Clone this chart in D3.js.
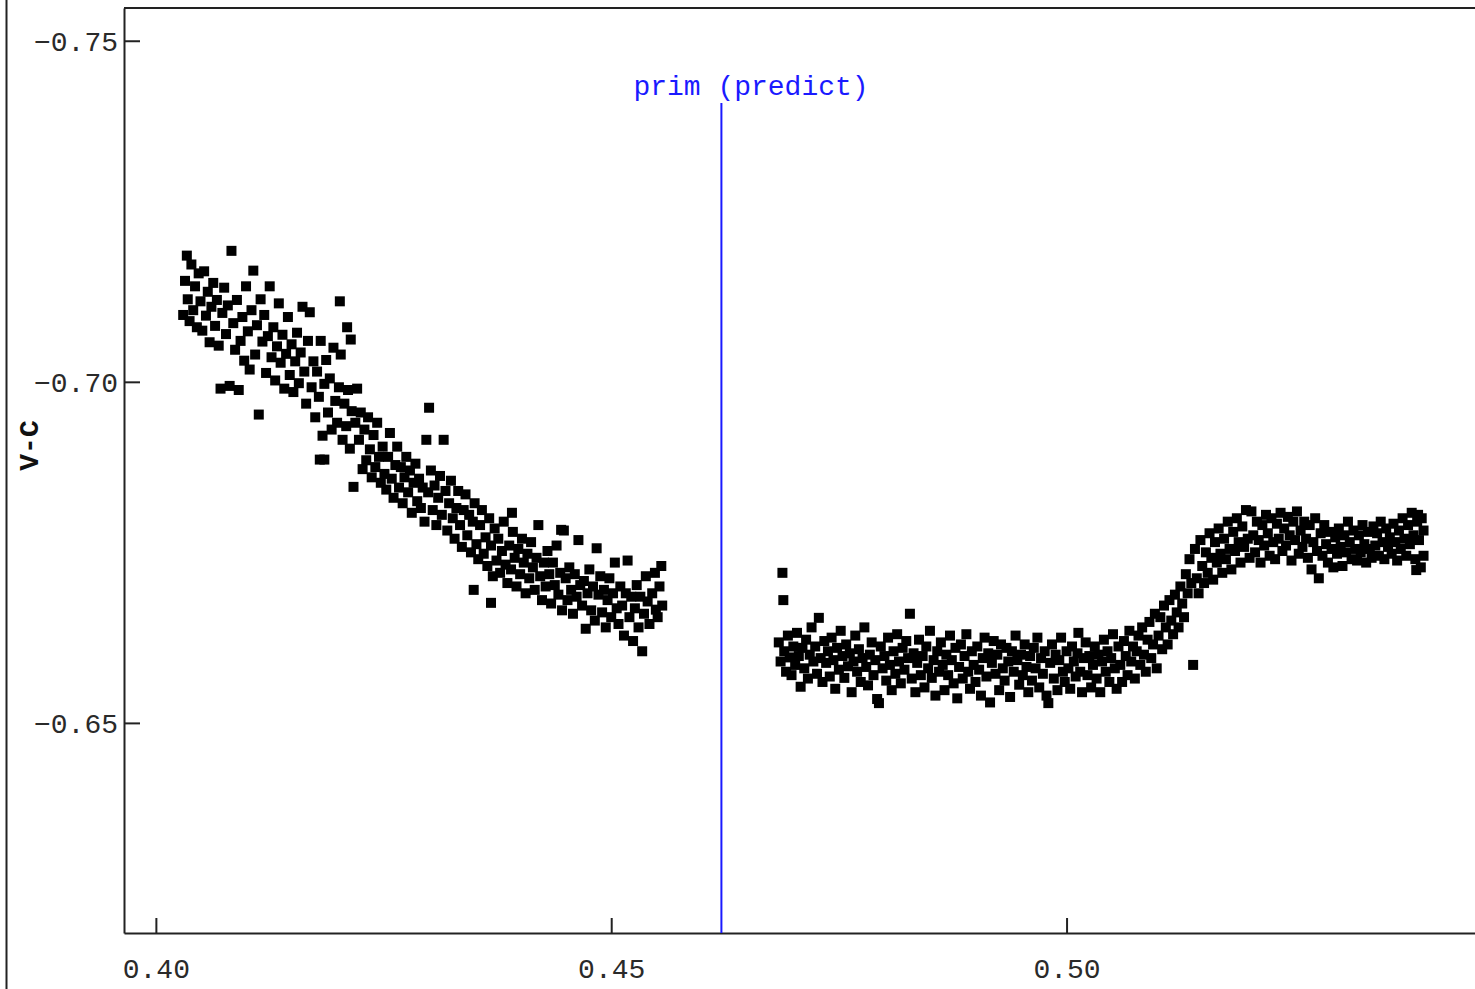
<!DOCTYPE html>
<html>
<head>
<meta charset="utf-8">
<script src="https://cdn.jsdelivr.net/npm/d3@7"></script>
<style>
  html, body { margin: 0; padding: 0; background: #fff; overflow: hidden; }
  text { font-family: "Liberation Mono", "DejaVu Sans Mono", monospace; }
</style>
</head>
<body>
<svg id="chart" width="1475" height="989"></svg>
<script>
// Axis ticks and annotations
const xTicks = [0.40, 0.45, 0.50];
const yTicks = [-0.75, -0.70, -0.65];
const yTitle = "V-C";
const primPredict = 0.4621;
const primLabel = "prim (predict)";

// Observed V-C differential magnitudes against phase, before the predicted minimum
const preMinimum = [
  [0.4030,-0.7098],[0.4032,-0.7148],[0.4034,-0.7185],[0.4035,-0.7121],[0.4037,-0.7089],[0.4039,-0.7172],[0.4041,-0.7105],[0.4043,-0.7140],[0.4045,-0.7080],[0.4047,-0.7159],
  [0.4049,-0.7118],[0.4051,-0.7075],[0.4053,-0.7162],[0.4055,-0.7097],[0.4057,-0.7132],[0.4059,-0.7058],[0.4061,-0.7110],[0.4063,-0.7145],[0.4065,-0.7082],[0.4067,-0.7120],
  [0.4069,-0.7053],[0.4071,-0.6990],[0.4073,-0.7101],[0.4075,-0.7138],[0.4077,-0.7070],[0.4079,-0.7112],[0.4081,-0.6994],[0.4083,-0.7192],[0.4085,-0.7086],[0.4087,-0.7047],
  [0.4089,-0.7120],[0.4091,-0.6988],[0.4093,-0.7060],[0.4095,-0.7095],[0.4097,-0.7031],[0.4099,-0.7140],[0.4101,-0.7074],[0.4103,-0.7018],[0.4105,-0.7105],[0.4107,-0.7163],
  [0.4109,-0.7040],[0.4111,-0.7083],[0.4113,-0.6952],[0.4115,-0.7121],[0.4117,-0.7059],[0.4119,-0.7098],[0.4121,-0.7013],[0.4123,-0.7067],[0.4125,-0.7140],[0.4127,-0.7036],
  [0.4129,-0.7080],[0.4131,-0.7002],[0.4133,-0.7052],[0.4135,-0.7115],[0.4137,-0.7028],[0.4139,-0.7069],[0.4141,-0.6990],[0.4143,-0.7041],[0.4145,-0.7095],[0.4147,-0.7010],
  [0.4149,-0.7055],[0.4151,-0.6985],[0.4153,-0.7030],[0.4155,-0.7072],[0.4157,-0.6998],[0.4159,-0.7043],[0.4161,-0.7110],[0.4163,-0.7015],[0.4165,-0.6968],[0.4167,-0.7060],
  [0.4169,-0.7102],[0.4171,-0.6992],[0.4173,-0.7030],[0.4175,-0.6948],[0.4177,-0.7015],[0.4179,-0.6978],[0.4180,-0.6886],[0.4181,-0.7060],[0.4183,-0.6921],[0.4185,-0.6886],
  [0.4185,-0.6997],[0.4187,-0.7032],[0.4189,-0.6955],[0.4191,-0.7005],[0.4193,-0.6930],[0.4195,-0.7050],[0.4197,-0.6972],[0.4199,-0.6940],[0.4201,-0.6992],[0.4202,-0.7118],
  [0.4203,-0.7040],[0.4205,-0.6915],[0.4207,-0.6968],[0.4209,-0.6935],[0.4210,-0.7080],[0.4211,-0.6988],[0.4213,-0.6902],[0.4214,-0.7062],[0.4215,-0.6957],[0.4217,-0.6846],
  [0.4219,-0.6940],[0.4221,-0.6990],[0.4223,-0.6915],[0.4225,-0.6955],[0.4227,-0.6872],[0.4229,-0.6930],[0.4231,-0.6885],[0.4233,-0.6948],[0.4235,-0.6901],[0.4237,-0.6860],
  [0.4239,-0.6922],[0.4241,-0.6875],[0.4243,-0.6940],[0.4245,-0.6890],[0.4247,-0.6852],[0.4249,-0.6905],[0.4251,-0.6865],[0.4253,-0.6842],[0.4255,-0.6890],[0.4257,-0.6925],
  [0.4259,-0.6858],[0.4261,-0.6830],[0.4263,-0.6878],[0.4265,-0.6905],[0.4267,-0.6845],[0.4269,-0.6875],[0.4271,-0.6822],[0.4273,-0.6860],[0.4275,-0.6890],[0.4277,-0.6838],
  [0.4279,-0.6870],[0.4281,-0.6808],[0.4283,-0.6852],[0.4285,-0.6880],[0.4287,-0.6825],[0.4289,-0.6858],[0.4291,-0.6815],[0.4293,-0.6845],[0.4295,-0.6795],[0.4297,-0.6915],
  [0.4299,-0.6838],[0.4300,-0.6962],[0.4302,-0.6870],[0.4304,-0.6812],[0.4306,-0.6848],[0.4308,-0.6790],[0.4310,-0.6830],[0.4312,-0.6862],[0.4314,-0.6805],[0.4316,-0.6915],
  [0.4318,-0.6840],[0.4320,-0.6782],[0.4322,-0.6822],[0.4324,-0.6855],[0.4326,-0.6800],[0.4328,-0.6770],[0.4330,-0.6815],[0.4332,-0.6840],[0.4334,-0.6790],[0.4336,-0.6758],
  [0.4338,-0.6812],[0.4340,-0.6835],[0.4342,-0.6775],[0.4344,-0.6805],[0.4346,-0.6750],[0.4348,-0.6795],[0.4349,-0.6695],[0.4350,-0.6822],[0.4352,-0.6762],[0.4354,-0.6740],
  [0.4356,-0.6790],[0.4358,-0.6812],[0.4360,-0.6748],[0.4362,-0.6772],[0.4364,-0.6730],[0.4366,-0.6800],[0.4368,-0.6760],[0.4368,-0.6676],[0.4370,-0.6715],[0.4372,-0.6785],
  [0.4374,-0.6738],[0.4376,-0.6770],[0.4378,-0.6720],[0.4380,-0.6752],[0.4382,-0.6795],[0.4384,-0.6732],[0.4386,-0.6705],[0.4388,-0.6760],[0.4390,-0.6725],[0.4391,-0.6808],
  [0.4392,-0.6780],[0.4394,-0.6742],[0.4396,-0.6700],[0.4398,-0.6755],[0.4400,-0.6718],[0.4402,-0.6770],[0.4404,-0.6735],[0.4406,-0.6690],[0.4408,-0.6748],[0.4410,-0.6712],
  [0.4412,-0.6765],[0.4414,-0.6728],[0.4416,-0.6695],[0.4418,-0.6742],[0.4420,-0.6790],[0.4422,-0.6715],[0.4424,-0.6680],[0.4426,-0.6735],[0.4428,-0.6700],[0.4430,-0.6752],
  [0.4432,-0.6718],[0.4434,-0.6675],[0.4436,-0.6735],[0.4438,-0.6702],[0.4440,-0.6760],[0.4442,-0.6688],[0.4444,-0.6720],[0.4445,-0.6783],[0.4446,-0.6665],[0.4448,-0.6782],
  [0.4450,-0.6712],[0.4452,-0.6680],[0.4454,-0.6728],[0.4456,-0.6695],[0.4458,-0.6660],[0.4460,-0.6718],[0.4462,-0.6685],[0.4464,-0.6768],[0.4466,-0.6702],[0.4468,-0.6672],
  [0.4470,-0.6708],[0.4472,-0.6638],[0.4474,-0.6690],[0.4476,-0.6725],[0.4478,-0.6665],[0.4480,-0.6700],[0.4482,-0.6650],[0.4484,-0.6756],[0.4486,-0.6688],[0.4488,-0.6715],
  [0.4490,-0.6662],[0.4492,-0.6695],[0.4494,-0.6640],[0.4496,-0.6680],[0.4498,-0.6712],[0.4500,-0.6655],[0.4502,-0.6690],[0.4504,-0.6735],[0.4506,-0.6668],[0.4508,-0.6645],
  [0.4510,-0.6700],[0.4512,-0.6672],[0.4514,-0.6628],[0.4516,-0.6690],[0.4518,-0.6738],[0.4520,-0.6655],[0.4522,-0.6685],[0.4524,-0.6620],[0.4526,-0.6668],[0.4528,-0.6702],
  [0.4530,-0.6640],[0.4532,-0.6685],[0.4534,-0.6605],[0.4536,-0.6660],[0.4538,-0.6715],[0.4540,-0.6678],[0.4542,-0.6645],[0.4545,-0.6690],[0.4548,-0.6720],[0.4549,-0.6666],
  [0.4551,-0.6655],[0.4553,-0.6700],[0.4555,-0.6730],[0.4556,-0.6672]
];

// Observed V-C differential magnitudes against phase, after the predicted minimum
const postMinimum = [
  [0.4684,-0.6618],[0.4686,-0.6590],[0.4688,-0.6720],[0.4689,-0.6680],[0.4690,-0.6605],[0.4692,-0.6575],[0.4694,-0.6628],[0.4696,-0.6596],[0.4698,-0.6570],[0.4700,-0.6612],
  [0.4702,-0.6585],[0.4704,-0.6632],[0.4706,-0.6598],[0.4708,-0.6553],[0.4710,-0.6610],[0.4712,-0.6580],[0.4714,-0.6622],[0.4716,-0.6565],[0.4718,-0.6600],[0.4720,-0.6640],
  [0.4722,-0.6590],[0.4724,-0.6612],[0.4726,-0.6572],[0.4728,-0.6654],[0.4730,-0.6595],[0.4732,-0.6560],[0.4734,-0.6620],[0.4736,-0.6588],[0.4738,-0.6605],[0.4740,-0.6568],
  [0.4742,-0.6625],[0.4744,-0.6592],[0.4746,-0.6550],[0.4748,-0.6610],[0.4750,-0.6578],[0.4752,-0.6635],[0.4754,-0.6598],[0.4756,-0.6566],[0.4758,-0.6615],[0.4760,-0.6583],
  [0.4762,-0.6602],[0.4764,-0.6545],[0.4766,-0.6590],[0.4768,-0.6628],[0.4770,-0.6575],[0.4772,-0.6608],[0.4774,-0.6560],[0.4776,-0.6595],[0.4778,-0.6640],[0.4780,-0.6582],
  [0.4782,-0.6555],[0.4784,-0.6600],[0.4786,-0.6618],[0.4788,-0.6570],[0.4790,-0.6592],[0.4792,-0.6535],[0.4794,-0.6529],[0.4796,-0.6612],[0.4798,-0.6580],[0.4800,-0.6598],
  [0.4802,-0.6562],[0.4804,-0.6625],[0.4806,-0.6585],[0.4808,-0.6548],[0.4810,-0.6605],[0.4812,-0.6572],[0.4814,-0.6630],[0.4816,-0.6590],[0.4818,-0.6558],[0.4820,-0.6610],
  [0.4822,-0.6578],[0.4824,-0.6620],[0.4826,-0.6595],[0.4828,-0.6660],[0.4830,-0.6565],[0.4832,-0.6602],[0.4834,-0.6545],[0.4836,-0.6588],[0.4838,-0.6622],[0.4840,-0.6570],
  [0.4842,-0.6598],[0.4844,-0.6552],[0.4846,-0.6612],[0.4848,-0.6580],[0.4850,-0.6635],[0.4852,-0.6566],[0.4854,-0.6592],[0.4856,-0.6540],[0.4858,-0.6605],[0.4860,-0.6575],
  [0.4862,-0.6618],[0.4864,-0.6585],[0.4866,-0.6548],[0.4868,-0.6600],[0.4870,-0.6570],[0.4872,-0.6628],[0.4874,-0.6592],[0.4876,-0.6558],[0.4878,-0.6610],[0.4880,-0.6536],
  [0.4882,-0.6582],[0.4884,-0.6615],[0.4886,-0.6565],[0.4888,-0.6598],[0.4890,-0.6630],[0.4892,-0.6575],[0.4894,-0.6550],[0.4896,-0.6605],[0.4898,-0.6585],[0.4900,-0.6560],
  [0.4902,-0.6612],[0.4904,-0.6578],[0.4906,-0.6540],[0.4908,-0.6595],[0.4910,-0.6625],[0.4912,-0.6568],[0.4914,-0.6602],[0.4916,-0.6530],[0.4918,-0.6588],[0.4920,-0.6620],
  [0.4922,-0.6572],[0.4924,-0.6600],[0.4926,-0.6548],[0.4928,-0.6615],[0.4930,-0.6580],[0.4932,-0.6562],[0.4934,-0.6610],[0.4936,-0.6590],[0.4938,-0.6538],[0.4940,-0.6605],
  [0.4942,-0.6575],[0.4944,-0.6628],[0.4946,-0.6592],[0.4948,-0.6556],[0.4950,-0.6600],[0.4952,-0.6570],[0.4954,-0.6615],[0.4956,-0.6582],[0.4958,-0.6545],[0.4960,-0.6598],
  [0.4962,-0.6562],[0.4964,-0.6610],[0.4966,-0.6580],[0.4968,-0.6625],[0.4970,-0.6552],[0.4972,-0.6595],[0.4974,-0.6572],[0.4976,-0.6605],[0.4978,-0.6540],[0.4980,-0.6529],
  [0.4982,-0.6588],[0.4984,-0.6615],[0.4986,-0.6565],[0.4988,-0.6600],[0.4990,-0.6548],[0.4992,-0.6592],[0.4994,-0.6625],[0.4996,-0.6575],[0.4998,-0.6560],[0.5000,-0.6605],
  [0.5002,-0.6580],[0.5004,-0.6550],[0.5006,-0.6612],[0.5008,-0.6590],[0.5010,-0.6568],[0.5012,-0.6602],[0.5013,-0.6632],[0.5015,-0.6575],[0.5017,-0.6545],[0.5019,-0.6595],
  [0.5021,-0.6618],[0.5023,-0.6570],[0.5025,-0.6598],[0.5027,-0.6552],[0.5029,-0.6585],[0.5031,-0.6612],[0.5033,-0.6565],[0.5035,-0.6600],[0.5037,-0.6545],[0.5039,-0.6590],
  [0.5041,-0.6622],[0.5043,-0.6575],[0.5045,-0.6605],[0.5047,-0.6560],[0.5049,-0.6595],[0.5051,-0.6630],[0.5053,-0.6580],[0.5055,-0.6550],[0.5057,-0.6612],[0.5059,-0.6585],
  [0.5061,-0.6560],[0.5063,-0.6620],[0.5065,-0.6598],[0.5067,-0.6570],[0.5069,-0.6635],[0.5071,-0.6590],[0.5073,-0.6612],[0.5075,-0.6565],[0.5077,-0.6605],[0.5079,-0.6628],
  [0.5081,-0.6585],[0.5083,-0.6640],[0.5085,-0.6600],[0.5087,-0.6575],[0.5089,-0.6622],[0.5091,-0.6648],[0.5093,-0.6595],[0.5095,-0.6615],[0.5097,-0.6660],[0.5099,-0.6580],
  [0.5101,-0.6628],[0.5103,-0.6655],[0.5105,-0.6608],[0.5107,-0.6672],[0.5109,-0.6640],[0.5111,-0.6615],[0.5113,-0.6680],[0.5115,-0.6650],[0.5117,-0.6630],[0.5119,-0.6688],
  [0.5121,-0.6662],[0.5123,-0.6640],[0.5125,-0.6700],[0.5127,-0.6675],[0.5129,-0.6655],[0.5131,-0.6718],[0.5133,-0.6690],[0.5135,-0.6740],[0.5137,-0.6705],[0.5139,-0.6585],
  [0.5141,-0.6755],[0.5143,-0.6712],[0.5145,-0.6690],[0.5147,-0.6768],[0.5149,-0.6730],[0.5151,-0.6705],[0.5153,-0.6750],[0.5155,-0.6720],[0.5157,-0.6778],[0.5159,-0.6742],
  [0.5161,-0.6710],[0.5163,-0.6765],[0.5165,-0.6735],[0.5167,-0.6785],[0.5169,-0.6748],[0.5171,-0.6720],[0.5173,-0.6770],[0.5175,-0.6740],[0.5177,-0.6795],[0.5179,-0.6755],
  [0.5181,-0.6725],[0.5183,-0.6780],[0.5185,-0.6752],[0.5187,-0.6800],[0.5189,-0.6765],[0.5191,-0.6735],[0.5193,-0.6788],[0.5195,-0.6758],[0.5197,-0.6812],[0.5199,-0.6770],
  [0.5201,-0.6742],[0.5203,-0.6810],[0.5205,-0.6775],[0.5207,-0.6750],[0.5209,-0.6795],[0.5211,-0.6768],[0.5213,-0.6735],[0.5215,-0.6790],[0.5217,-0.6760],[0.5219,-0.6805],
  [0.5221,-0.6778],[0.5223,-0.6745],[0.5225,-0.6800],[0.5227,-0.6765],[0.5229,-0.6740],[0.5231,-0.6792],[0.5233,-0.6770],[0.5235,-0.6808],[0.5237,-0.6752],[0.5239,-0.6785],
  [0.5241,-0.6760],[0.5243,-0.6802],[0.5245,-0.6775],[0.5247,-0.6738],[0.5249,-0.6795],[0.5251,-0.6768],[0.5253,-0.6810],[0.5255,-0.6748],[0.5257,-0.6782],[0.5259,-0.6758],
  [0.5261,-0.6795],[0.5263,-0.6770],[0.5265,-0.6742],[0.5267,-0.6790],[0.5269,-0.6725],[0.5271,-0.6765],[0.5273,-0.6800],[0.5275,-0.6752],[0.5277,-0.6712],[0.5279,-0.6778],
  [0.5281,-0.6745],[0.5283,-0.6790],[0.5285,-0.6762],[0.5287,-0.6735],[0.5289,-0.6780],[0.5291,-0.6755],[0.5293,-0.6728],[0.5295,-0.6772],[0.5297,-0.6748],[0.5299,-0.6785],
  [0.5301,-0.6758],[0.5303,-0.6730],[0.5305,-0.6775],[0.5307,-0.6750],[0.5309,-0.6795],[0.5311,-0.6765],[0.5313,-0.6740],[0.5315,-0.6782],[0.5317,-0.6755],[0.5319,-0.6738],
  [0.5321,-0.6775],[0.5323,-0.6750],[0.5325,-0.6790],[0.5327,-0.6762],[0.5329,-0.6735],[0.5331,-0.6780],[0.5333,-0.6755],[0.5335,-0.6742],[0.5337,-0.6788],[0.5339,-0.6760],
  [0.5341,-0.6778],[0.5343,-0.6745],[0.5345,-0.6795],[0.5347,-0.6765],[0.5349,-0.6740],[0.5351,-0.6785],[0.5353,-0.6758],[0.5355,-0.6772],[0.5357,-0.6748],[0.5359,-0.6792],
  [0.5361,-0.6765],[0.5363,-0.6738],[0.5365,-0.6782],[0.5367,-0.6755],[0.5369,-0.6800],[0.5371,-0.6770],[0.5373,-0.6745],[0.5375,-0.6790],[0.5377,-0.6762],[0.5379,-0.6808],
  [0.5381,-0.6775],[0.5383,-0.6740],[0.5384,-0.6724],[0.5385,-0.6795],[0.5386,-0.6805],[0.5387,-0.6768],[0.5389,-0.6728],[0.5390,-0.6800],[0.5392,-0.6782],[0.5392,-0.6745]
];

// ---- layout ----
const width = 1475, height = 989;
const plot = { left: 124, top: 8, right: 1480, bottom: 933 };
const fontSize = 28;
const axisColor = "#222";

const svg = d3.select("#chart");

// Phase on x; V-C magnitude on y (brighter = more negative, at the top)
const x = d3.scaleLinear().domain([0.3965, 0.5454]).range([plot.left, plot.right]);
const y = d3.scaleLinear().domain([-0.7548, -0.6192]).range([plot.top, plot.bottom]);

// Outer border on the left edge of the figure
svg.append("line")
  .attr("x1", 6.5).attr("x2", 6.5).attr("y1", 0).attr("y2", height)
  .attr("stroke", axisColor).attr("stroke-width", 2);

// Top frame line
svg.append("line")
  .attr("x1", x.range()[0]).attr("x2", x.range()[1])
  .attr("y1", y.range()[0]).attr("y2", y.range()[0])
  .attr("stroke", axisColor).attr("stroke-width", 2);

// Bottom axis with inward ticks
const xAxis = svg.append("g")
  .attr("transform", `translate(0,${plot.bottom})`)
  .call(d3.axisBottom(x).tickValues(xTicks).tickFormat(d3.format(".2f"))
    .tickSizeInner(-15).tickSizeOuter(0).tickPadding(25));

// Left axis with inward ticks
const yAxis = svg.append("g")
  .attr("transform", `translate(${plot.left},0)`)
  .call(d3.axisLeft(y).tickValues(yTicks).tickFormat(d3.format(".2f"))
    .tickSizeInner(-16).tickSizeOuter(0).tickPadding(6));

[xAxis, yAxis].forEach(g => {
  g.select(".domain").attr("stroke", axisColor).attr("stroke-width", 2);
  g.selectAll(".tick line").attr("stroke", axisColor).attr("stroke-width", 2);
  g.selectAll(".tick text")
    .attr("fill", "#2a2a2a")
    .style("font-size", fontSize + "px")
    .style("font-family", '"Liberation Mono", "DejaVu Sans Mono", monospace');
});
yAxis.selectAll(".tick text").attr("dy", "0.36em");

// Y axis title
svg.append("text")
  .attr("transform", `translate(28,${(plot.top + plot.bottom) / 2 - 25}) rotate(-90)`)
  .attr("text-anchor", "middle")
  .attr("dy", "0.36em")
  .attr("fill", "#111")
  .style("font-size", fontSize + "px")
  .style("font-weight", "bold")
  .text(yTitle);

// Predicted primary minimum marker
const blue = "#1a1aff";
const xp = x(primPredict);
svg.append("line")
  .attr("x1", xp).attr("x2", xp)
  .attr("y1", 103).attr("y2", plot.bottom)
  .attr("stroke", blue).attr("stroke-width", 2);

svg.append("text")
  .attr("x", xp - 5 * 0.6 * fontSize - 4)
  .attr("y", 95)
  .attr("fill", blue)
  .style("font-size", fontSize + "px")
  .style("white-space", "pre")
  .attr("xml:space", "preserve")
  .text(primLabel);

// Observations as filled squares
const size = 10;
const points = svg.append("g").attr("fill", "#000");
points.selectAll("rect")
  .data(preMinimum.concat(postMinimum))
  .join("rect")
  .attr("x", d => x(d[0]) - size / 2)
  .attr("y", d => y(d[1]) - size / 2)
  .attr("width", size)
  .attr("height", size);
</script>
</body>
</html>
